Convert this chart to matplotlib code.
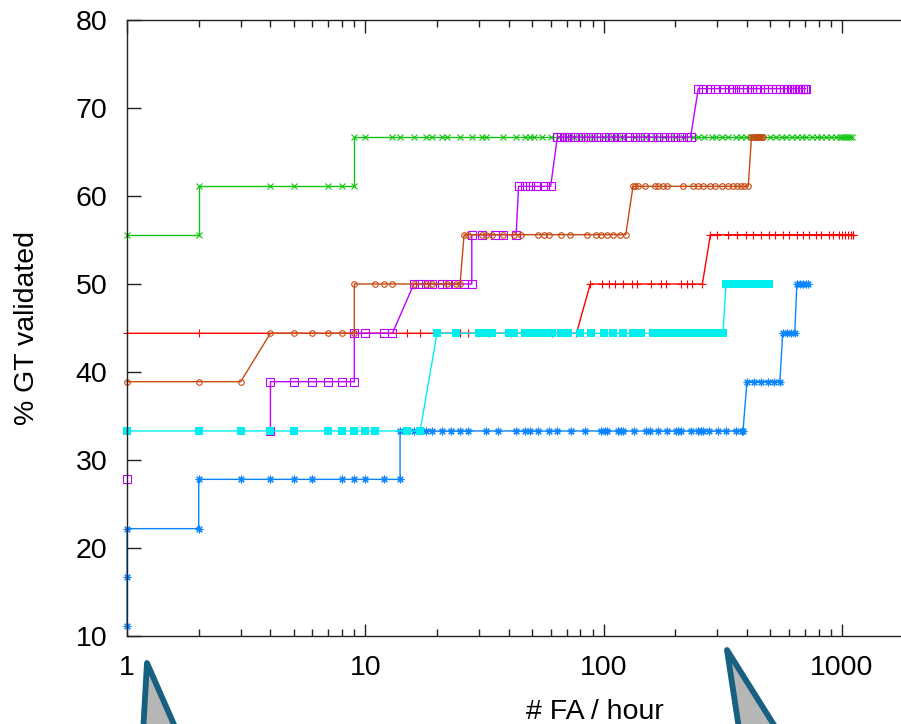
import matplotlib
matplotlib.use("Agg")
import matplotlib.pyplot as plt
from matplotlib.patches import Polygon
from matplotlib.ticker import FixedLocator, FuncFormatter, LogLocator, NullFormatter
import numpy as np

plt.rcParams.update({
    "font.family": ["Liberation Sans", "DejaVu Sans"],
    "font.size": 20.5,
    "axes.linewidth": 1.0,
})

# each series: detection levels (% GT validated) and the FA/hour values at each level
red_levels = [44.4, 50.0, 55.6]
red_x = [
    [1, 2, 15, 17, 25, 27, 33, 41, 61, 77],
    [88, 99, 105, 112, 121, 132, 138, 158, 175, 183, 211, 224, 235, 260],
    [281, 300, 334, 362, 398, 425, 460, 495, 527, 565, 600, 650, 690, 730, 780,
     820, 880, 920, 975, 1000, 1030, 1060, 1090, 1110, 1120],
]

green_levels = [55.6, 61.1, 66.7]
green_x = [
    [1, 2],
    [2, 4, 5, 7, 8, 9],
    [9, 10, 13, 14, 16, 18, 19, 21, 22, 25, 28, 31, 32, 38, 43, 47, 49, 51, 55, 60,
     65, 70, 75, 82, 90, 100, 110, 120, 135, 150, 165, 180, 200, 215, 237, 250, 263,
     285, 298, 314, 334, 360, 377, 396, 420, 440, 460, 500, 530, 560, 585, 620, 650,
     680, 710, 750, 785, 820, 860, 900, 945, 980, 1000, 1020, 1040, 1060, 1080, 1100],
]

blue_levels = [11.1, 16.7, 22.2, 27.8, 33.3, 38.9, 44.4, 50.0]
blue_x = [
    [1],
    [1],
    [1, 2],
    [2, 3, 4, 5, 6, 8, 9, 10, 12, 14],
    [14, 16, 18, 19, 21, 23, 25, 27, 32, 36, 43, 47, 49, 53, 59, 64, 73, 84, 98, 101,
     103, 115, 118, 121, 134, 151, 156, 169, 184, 202, 206, 211, 232, 250, 256, 262,
     278, 303, 327, 359, 380, 385],
    [400, 430, 460, 490, 520, 550],
    [565, 590, 615, 635],
    [648, 665, 685, 705, 720],
]

magenta_lone_x = [1]
magenta_lone_y = [27.8]
magenta_levels = [33.3, 38.9, 44.4, 50.0, 55.6, 61.1, 66.7, 72.2]
magenta_x = [
    [4],
    [4, 5, 6, 7, 8, 9],
    [9, 10, 12, 13],
    [16, 17, 18, 19, 21, 22, 24, 26, 28],
    [28, 31, 35, 38, 43],
    [44, 47, 49, 52, 57, 60],
    [64, 66, 68, 70, 72, 75, 78, 82, 86, 90, 95, 100, 105, 110, 115, 120, 128, 135,
     142, 150, 160, 170, 180, 190, 200, 212, 225, 232],
    [250, 262, 280, 295, 320, 335, 350, 370, 385, 400, 420, 440, 455, 470, 490, 510,
     530, 550, 570, 590, 610, 630, 650, 670, 685, 700, 705],
]

cyan_levels = [33.3, 44.4, 50.0]
cyan_x = [
    [1, 2, 3, 4, 5, 7, 8, 9, 10, 11, 15, 17],
    [20, 24, 30, 31, 32, 34, 40, 42, 47, 50, 52, 54, 56, 58, 61, 66, 71, 80, 89, 100,
     110, 121, 133, 144, 162, 168, 174, 180, 189, 202, 208, 214, 219, 233, 240, 248,
     256, 264, 272, 278, 290, 300, 310, 317],
    [327, 335, 343, 352, 361, 370, 380, 390, 400, 410, 420, 431, 442, 453, 464, 475,
     486, 497],
]

brown_levels = [38.9, 44.4, 50.0, 55.6, 61.1, 66.7]
brown_x = [
    [1, 2, 3],
    [4, 5, 6, 7, 8, 9],
    [9, 11, 12, 13, 16, 18, 19, 22, 24, 25],
    [26, 27, 31, 32, 34, 38, 42, 45, 53, 56, 59, 66, 72, 85, 93, 98, 103, 110, 117, 124],
    [133, 135, 140, 150, 165, 170, 177, 185, 216, 238, 250, 262, 280, 295, 315, 334,
     350, 365, 378, 390, 405],
    [418, 425, 432, 440, 447, 455, 462, 468],
]

x_ticks = [1, 10, 100, 1000]
y_ticks = [10, 20, 30, 40, 50, 60, 70, 80]

RED = "#ff0000"
GREEN = "#10c410"
BLUE = "#0a84ff"
MAGENTA = "#c000ff"
CYAN = "#00eeee"
BROWN = "#c84a10"
EDGE = "#17607f"


def flatten(levels, xs):
    px, py = [], []
    for lv, xx in zip(levels, xs):
        px.extend(xx)
        py.extend([lv] * len(xx))
    return px, py


W, H = 901, 724
fig = plt.figure(figsize=(W / 100, H / 100), dpi=100)
# the original plot runs past the right edge of the picture (x range 1..10000)
ax = fig.add_axes([127 / W, (H - 636) / H, (1080 - 127) / W, 616 / H])

ms = dict(markersize=5.5, markeredgewidth=0.8, lw=1.0)
x, y = flatten(red_levels, red_x)
ax.plot(x, y, color=RED, marker="+", **ms)
x, y = flatten(green_levels, green_x)
ax.plot(x, y, color=GREEN, marker="x", markersize=5, markeredgewidth=0.8, lw=1.0)
x, y = flatten(blue_levels, blue_x)
ax.plot(x, y, color=BLUE, marker=(8, 2, 0), **ms)
x, y = flatten(magenta_levels, magenta_x)
ax.plot(x, y, color=MAGENTA, marker="s", markerfacecolor="none", **ms)
ax.plot(magenta_lone_x, magenta_lone_y, ls="none", color=MAGENTA, marker="s",
        markerfacecolor="none", markersize=5.5, markeredgewidth=0.8)
x, y = flatten(cyan_levels, cyan_x)
ax.plot(x, y, color=CYAN, marker="s", markersize=5.5, markeredgewidth=0, lw=1.0)
x, y = flatten(brown_levels, brown_x)
ax.plot(x, y, color=BROWN, marker="o", markerfacecolor="none", markersize=4,
        markeredgewidth=0.8, lw=1.0)
for ln in ax.lines:
    ln.set_clip_on(False)
for s in ax.spines.values():
    s.set_color("#222222")
    s.set_zorder(2.5)

ax.set_xscale("log")
ax.set_xlim(1, 10000)
ax.set_ylim(10, 80)
ax.xaxis.set_major_locator(FixedLocator(x_ticks))
ax.xaxis.set_major_formatter(FuncFormatter(lambda v, p: "%d" % v))
ax.xaxis.set_minor_locator(LogLocator(base=10, subs=np.arange(2, 10)))
ax.xaxis.set_minor_formatter(NullFormatter())
ax.set_yticks(y_ticks)
ax.tick_params(axis="x", which="major", direction="in", length=9, width=1.0,
               top=True, pad=14, colors="#222222", labelcolor="black")
ax.tick_params(axis="x", which="minor", direction="in", length=5, width=1.0,
               top=True, colors="#222222")
ax.tick_params(axis="y", which="major", direction="in", length=10, width=1.0,
               pad=14, colors="#222222", labelcolor="black")

ax.set_ylabel("% GT validated")
ax.yaxis.set_label_coords((40 - 127) / (1080 - 127), 0.5)
ax.set_xlabel("# FA / hour")
ax.xaxis.set_label_coords((595 - 127) / (1080 - 127), -0.102)

# grey callout pointers at the bottom edge
ov = fig.add_axes([0, 0, 1, 1], facecolor="none")
ov.set_xlim(0, W)
ov.set_ylim(H, 0)
ov.axis("off")
tri1 = [(147, 663), (142.3, 745), (182.9, 745)]
tri2 = [(727, 650), (741.5, 745), (786.5, 745)]
for pts in (tri1, tri2):
    ov.add_patch(Polygon(pts, closed=True, facecolor="#b6b6b6", edgecolor=EDGE,
                         lw=4.2, joinstyle="round"))

fig.savefig("out.png", dpi=100)
